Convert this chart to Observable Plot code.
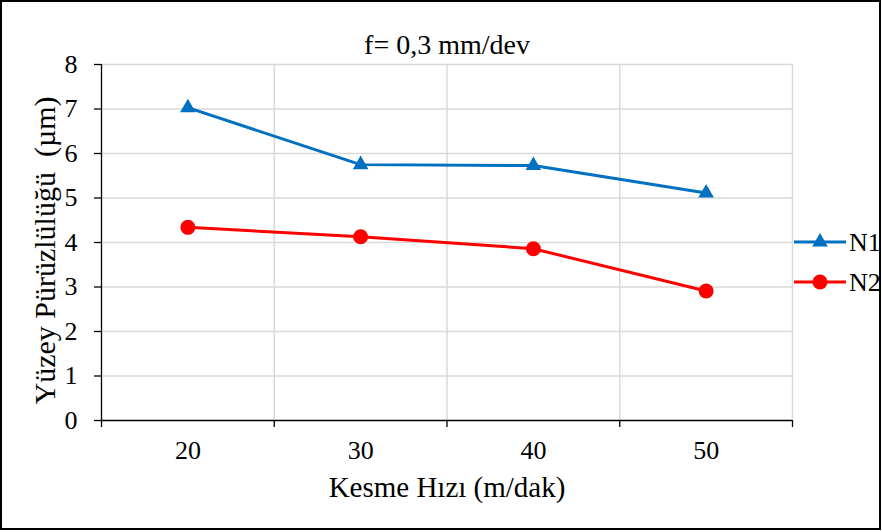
<!DOCTYPE html>
<html>
<head>
<meta charset="utf-8">
<script src="https://cdn.jsdelivr.net/npm/d3@7"></script>
<script src="https://cdn.jsdelivr.net/npm/@observablehq/plot@0.6"></script>
<style>
  html, body { margin: 0; padding: 0; background: #fff; }
  #wrap { position: relative; width: 882px; height: 532px; }
  #border { position: absolute; left: 0; top: 0; width: 877px; height: 526px; border: 2px solid #000; pointer-events: none; }
  svg text { white-space: pre; }
</style>
</head>
<body>
<div id="wrap"><div id="border"></div></div>
<script>
const title = "f= 0,3 mm/dev";
const xLabel = "Kesme Hızı (m/dak)";
const yLabel = "Yüzey Pürüzlülüğü  (µm)";
const speeds = [20, 30, 40, 50];
const n1 = [7.03, 5.75, 5.73, 5.11];
const n2 = [4.34, 4.13, 3.86, 2.91];
const seriesNames = ["N1", "N2"];
const seriesColors = ["#0070C0", "#FF0000"];
const yTicks = [0, 1, 2, 3, 4, 5, 6, 7, 8];
const xBounds = [15, 25, 35, 45, 55];

const data = [
  ...speeds.map((s, i) => ({speed: s, value: n1[i], series: "N1"})),
  ...speeds.map((s, i) => ({speed: s, value: n2[i], series: "N2"}))
];

const font = "'Liberation Serif', 'Times New Roman', serif";
const grid = "#d9d9d9";

const chart = Plot.plot({
  width: 882,
  height: 532,
  marginLeft: 101,
  marginRight: 90,
  marginTop: 64,
  marginBottom: 112,
  style: {fontFamily: font, color: "#000", background: "transparent", overflow: "visible"},
  x: {type: "linear", domain: [15, 55], label: null},
  y: {domain: [0, 8], label: null},
  color: {domain: seriesNames, range: seriesColors},
  marks: [
    Plot.gridY(yTicks.filter(d => d > 0), {stroke: grid, strokeOpacity: 1, strokeWidth: 1.5}),
    Plot.gridX(xBounds.slice(1), {stroke: grid, strokeOpacity: 1, strokeWidth: 1.5}),
    Plot.ruleY([0], {stroke: "#000", strokeWidth: 1.3}),
    Plot.ruleX([15], {stroke: "#000", strokeWidth: 1.3}),
    Plot.axisY(yTicks, {tickSize: 7, tickPadding: 17, fontSize: 26, fontFamily: font, fill: "#000", stroke: "#000", strokeWidth: 1.3, label: null}),
    Plot.axisX(xBounds, {tickSize: 7, tickFormat: () => "", stroke: "#000", strokeWidth: 1.3, label: null}),
    Plot.axisX(speeds, {tickSize: 0, tickPadding: 20, fontSize: 26, fontFamily: font, fill: "#000", label: null}),
    Plot.line(data, {x: "speed", y: "value", z: "series", stroke: "series", strokeWidth: 3}),
    Plot.dot(data.filter(d => d.series === "N1"), {x: "speed", y: "value", fill: "series", symbol: "triangle", r: 5.8, stroke: null}),
    Plot.dot(data.filter(d => d.series === "N2"), {x: "speed", y: "value", fill: "series", symbol: "circle", r: 7.5, stroke: null}),
    Plot.text([title], {frameAnchor: "top", dy: -30, fontSize: 28, fontFamily: font, fill: "#000"}),
    Plot.text([xLabel], {frameAnchor: "bottom", dy: 76, fontSize: 29, fontFamily: font, fill: "#000"}),
    Plot.text([yLabel], {frameAnchor: "left", textAnchor: "middle", dx: -56, dy: 8, rotate: -90, fontSize: 30, fontFamily: font, fill: "#000"})
  ]
});

// Legend at right
const svg = d3.select(chart);
const lg = svg.append("g").attr("font-family", font).attr("font-size", 26).attr("text-anchor", "start");
seriesNames.forEach((name, i) => {
  const y = 242 + i * 40;
  const g = lg.append("g");
  g.append("line").attr("x1", 794).attr("x2", 846).attr("y1", y).attr("y2", y)
    .attr("stroke", seriesColors[i]).attr("stroke-width", 3);
  if (i === 0) {
    g.append("path").attr("d", d3.symbol(d3.symbolTriangle, Math.PI * 5.8 * 5.8)())
      .attr("transform", `translate(820,${y})`).attr("fill", seriesColors[i]);
  } else {
    g.append("circle").attr("cx", 820).attr("cy", y).attr("r", 7.5).attr("fill", seriesColors[i]);
  }
  g.append("text").attr("x", 849).attr("y", y).attr("dy", "0.34em").attr("fill", "#000").text(name);
});

document.getElementById("wrap").insertBefore(chart, document.getElementById("border"));
</script>
</body>
</html>
